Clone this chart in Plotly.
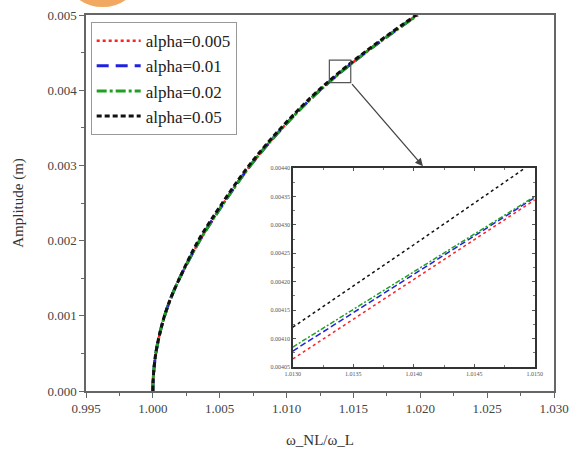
import plotly.graph_objects as go

# ---------------- data ----------------
amplitude = [0, 0.0001, 0.00025, 0.0005, 0.00075, 0.001, 0.00125, 0.0015, 0.002,
             0.0025, 0.003, 0.0035, 0.004, 0.0045, 0.005]
ratio_a0005 = [1.0, 1.00001, 1.00006, 1.00022, 1.00050, 1.00088, 1.00138, 1.0020, 1.0035,
               1.0053, 1.0073, 1.0097, 1.0125, 1.0159, 1.0198]
ratio_a001 = [1.0, 1.00001, 1.00006, 1.00022, 1.00050, 1.00088, 1.00138, 1.0020, 1.0035,
              1.0053, 1.0073, 1.0097, 1.0125, 1.0159, 1.0198]
ratio_a002 = [1.0, 1.00001, 1.00006, 1.00022, 1.00050, 1.00088, 1.00138, 1.0020, 1.0035,
              1.0053, 1.0073, 1.0097, 1.0125, 1.0159, 1.0198]
ratio_a005 = [1.0, 1.00001, 1.00006, 1.00022, 1.00050, 1.00087, 1.00137, 1.0020, 1.0034,
              1.0052, 1.0072, 1.0096, 1.0124, 1.0158, 1.0197]

# zoomed (inset) values
inset_ratio = [1.0130, 1.0140, 1.0150]
inset_amp_a0005 = [0.004064, 0.004204, 0.004344]
inset_amp_a001 = [0.004078, 0.004213, 0.004348]
inset_amp_a002 = [0.004085, 0.004217, 0.004350]
inset_black_ratio = [1.0130, 1.0140, 1.01492]
inset_amp_a005 = [0.004120, 0.004265, 0.004400]

labels = ["alpha=0.005", "alpha=0.01", "alpha=0.02", "alpha=0.05"]

main_x_ticks = [0.995, 1.000, 1.005, 1.010, 1.015, 1.020, 1.025, 1.030]
main_y_ticks = [0.000, 0.001, 0.002, 0.003, 0.004, 0.005]
inset_x_ticks = [1.0130, 1.0135, 1.0140, 1.0145, 1.0150]
inset_y_ticks = [0.00405, 0.00410, 0.00415, 0.00420, 0.00425, 0.00430, 0.00435, 0.00440]

# ---------------- styles ----------------
colors = ["#ff2020", "#2020e0", "#20a020", "#111111"]
dashes = ["dot", "12px,7px", "10px,3px,3px,3px", "5px,3px"]
widths = [2.5, 3, 3, 3]
FONT = "Liberation Serif, Times New Roman, serif"

fig = go.Figure()

main_series = [ratio_a0005, ratio_a001, ratio_a002, ratio_a005]
for lab, xs, c, d, w in zip(labels, main_series, colors, dashes, widths):
    fig.add_trace(go.Scatter(x=xs, y=amplitude, mode="lines", name=lab,
                             line=dict(color=c, dash=d, width=w, shape="spline"),
                             xaxis="x", yaxis="y"))

inset_series = [(inset_ratio, inset_amp_a0005), (inset_ratio, inset_amp_a001),
                (inset_ratio, inset_amp_a002), (inset_black_ratio, inset_amp_a005)]
inset_dash = ["dot", "6px,3px", "5px,2px,2px,2px", "3px,3px"]
for (xs, ys), c, d in zip(inset_series, colors, inset_dash):
    fig.add_trace(go.Scatter(x=xs, y=ys, mode="lines", showlegend=False,
                             line=dict(color=c, dash=d, width=1.5),
                             xaxis="x2", yaxis="y2"))

axis_common = dict(showgrid=False, zeroline=False, showline=True, mirror=True,
                   linecolor="#666666", linewidth=1.5, automargin=False)

fig.update_layout(
    width=573, height=450,
    margin=dict(l=86, r=19, t=15, b=59),
    paper_bgcolor="white", plot_bgcolor="white",
    font=dict(family=FONT, color="#333333"),
    xaxis=dict(**axis_common, range=[0.995, 1.030], tickvals=main_x_ticks,
               tickformat=".3f", ticks="outside", ticklen=5, tickcolor="#666666",
               tickfont=dict(size=13, color="#444444"),
               minor=dict(dtick=0.0025, ticks="outside", ticklen=3, tickcolor="#666666"),
               title=dict(text="ω_NL/ω_L", font=dict(size=15, color="#333333"), standoff=19)),
    yaxis=dict(**axis_common, range=[0, 0.005], tickvals=main_y_ticks,
               tickformat=".3f", ticks="outside", ticklen=5, tickcolor="#666666",
               tickfont=dict(size=13, color="#444444"),
               minor=dict(dtick=0.0005, ticks="outside", ticklen=3, tickcolor="#666666"),
               title=dict(text="Amplitude (m)", font=dict(size=15, color="#333333"), standoff=20)),
    xaxis2=dict(showgrid=False, zeroline=False, showline=True, mirror="allticks",
                linecolor="#333333", linewidth=1.5, automargin=False,
                domain=[0.442, 0.959], anchor="y2", range=[1.0130, 1.0150],
                tickvals=inset_x_ticks, tickformat=".4f", ticks="inside", ticklen=3,
                tickcolor="#555555", tickfont=dict(size=6, color="#555555"),
                minor=dict(dtick=0.00025, ticks="inside", ticklen=2, tickcolor="#777777")),
    yaxis2=dict(showgrid=False, zeroline=False, showline=True, mirror="allticks",
                linecolor="#333333", linewidth=1.5, automargin=False,
                domain=[0.064, 0.593], anchor="x2", range=[0.00405, 0.00440],
                tickvals=inset_y_ticks, tickformat=".5f", ticks="inside", ticklen=3,
                tickcolor="#555555", tickfont=dict(size=6, color="#555555"),
                minor=dict(dtick=0.000025, ticks="inside", ticklen=2, tickcolor="#777777")),
    legend=dict(x=0.01, y=0.981, xanchor="left", yanchor="top",
                bgcolor="white", bordercolor="#999999", borderwidth=1,
                font=dict(family=FONT, size=17, color="#222222"),
                tracegroupgap=0, itemwidth=44),
    showlegend=True,
)

# zoom box on the main curve
box_x = [1.0132, 1.0148]
box_y = [0.0041, 0.0044]
fig.add_shape(type="rect", xref="x", yref="y", x0=box_x[0], x1=box_x[1],
              y0=box_y[0], y1=box_y[1], line=dict(color="#555555", width=1.2))

# arrow from box to inset
fig.add_annotation(x=1.0202, y=0.00299, xref="x", yref="y",
                   ax=box_x[1], ay=box_y[0], axref="x", ayref="y",
                   showarrow=True, arrowhead=2, arrowsize=1.2, arrowwidth=1.3,
                   arrowcolor="#444444", text="")

# orange blob at the very top (cropped artifact)
fig.add_shape(type="circle", xref="paper", yref="paper",
              x0=-0.034, x1=0.105, y0=1.021, y1=1.15,
              fillcolor="#f2a860", line=dict(width=0), layer="above")

fig.write_html("out.html", config={"displayModeBar": False},
               post_script="document.body.style.margin='0';document.body.style.padding='0';")
